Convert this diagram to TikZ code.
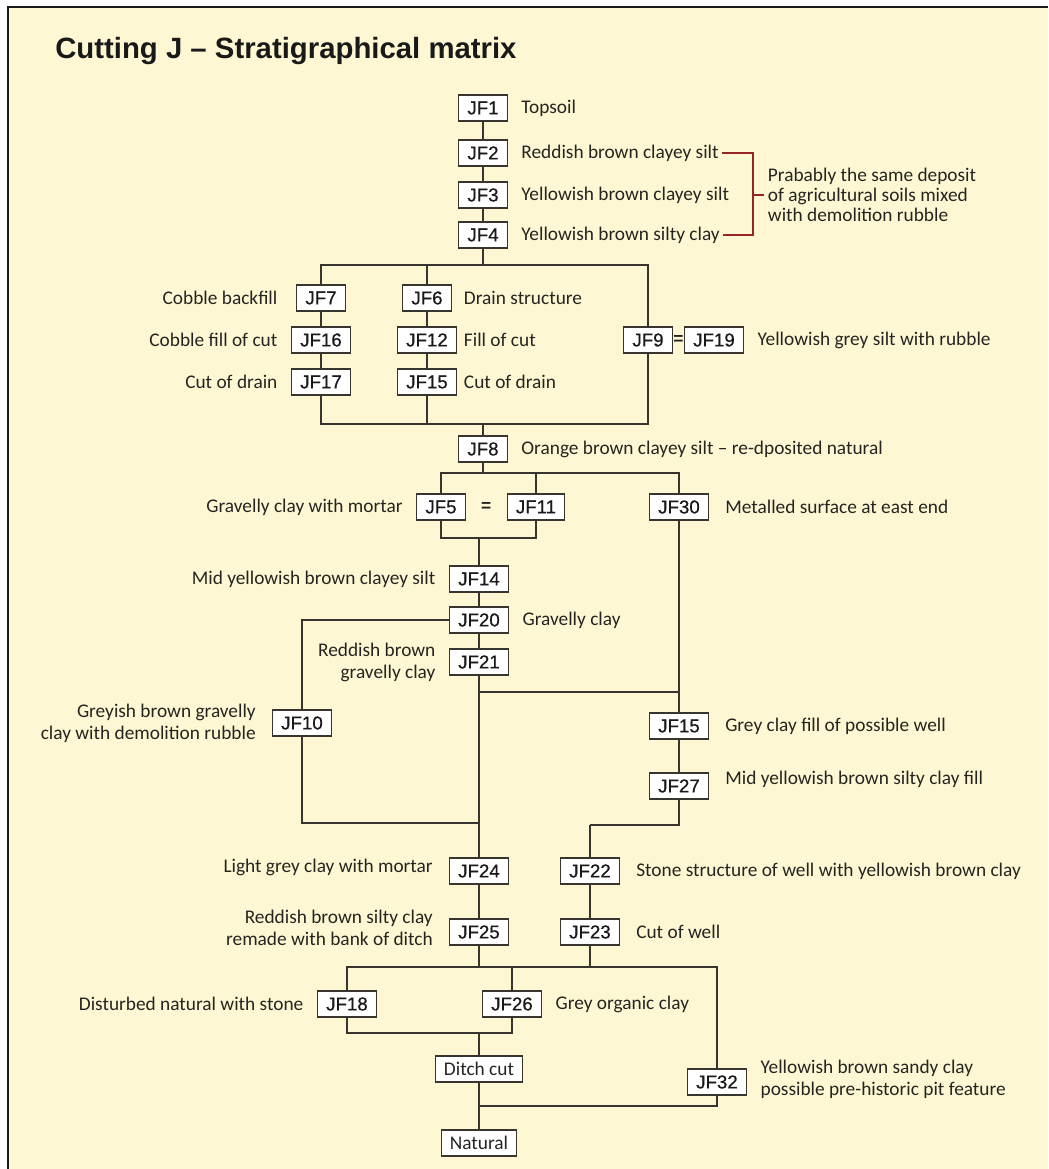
\documentclass[tikz,border=0pt]{standalone}
\usepackage{fontspec}
\setmainfont{Carlito}
\newfontfamily\boxfont[FakeBold=0.6]{Liberation Sans}
\newfontfamily\titlefont{Liberation Sans}
\usepackage{tikz}
\usetikzlibrary{positioning,calc,backgrounds}

\definecolor{paper}{RGB}{253,248,211}
\definecolor{linec}{RGB}{55,53,46}
\definecolor{bracketred}{RGB}{150,38,34}
\definecolor{textc}{RGB}{38,36,33}

\begin{document}
\begin{tikzpicture}[x=0.75pt,y=-0.75pt,node distance=10pt,
   ctx/.style={draw=linec,fill=white,line width=0.9pt,inner xsep=6.5pt,inner ysep=0pt,minimum height=19.5pt,font=\boxfont\fontsize{14}{16}\selectfont,text=black!90},
   ctxw/.style={ctx,font=\fontsize{14.5}{16}\selectfont,text=textc},
   desc/.style={inner sep=0pt,text=textc,font=\fontsize{14.5}{16.5}\selectfont},
   eqs/.style={inner sep=0pt,font=\titlefont\bfseries\fontsize{13}{14}\selectfont,text=textc},
   link/.style={draw=linec,line width=1.3pt}]

   \useasboundingbox (0,0) rectangle (1048,1169);
   \fill[white] (0,0) rectangle (1048,1169);
   \fill[paper] (8,7) rectangle (1048,1169);
   \draw[line width=1.7pt,black!90] (8,1169) -- (8,7) -- (1048,7);

   \node[anchor=west,inner sep=0pt,font=\titlefont\bfseries\fontsize{22}{24}\selectfont,text=black!90] (title) at (55,51) {Cutting J – Stratigraphical matrix};

   % upper sequence
   \node[ctx] (jf1) at (483,108) {JF1};
   \node[ctx] (jf2) at (483,153) {JF2};
   \node[ctx] (jf3) at (483,195) {JF3};
   \node[ctx] (jf4) at (483,235) {JF4};
   \node[desc] (l1) [right=of jf1] {Topsoil};
   \node[desc] (l2) [right=of jf2] {Reddish brown clayey silt};
   \node[desc] (l3) [right=of jf3] {Yellowish brown clayey silt};
   \node[desc] (l4) [right=of jf4] {Yellowish brown silty clay};

   \coordinate (brk) at (753,195);
   \node[desc,align=left,font=\fontsize{14.5}{15}\selectfont] (prob) [right=11pt of brk] {Prabably the same deposit\\of agricultural soils mixed\\with demolition rubble};
   \draw[bracketred,line width=1.4pt] ([xshift=2pt]l2.east) -| (brk) |- ([xshift=2pt]l4.east);
   \draw[bracketred,line width=1.4pt] (brk) -- ([xshift=-3pt]prob.west);

   % drains
   \coordinate (bar1) at (483,265);
   \coordinate (bar2) at (483,424);
   \node[ctx] (jf7) at (321,298) {JF7};
   \node[ctx] (jf16) at (321,340) {JF16};
   \node[ctx] (jf17) at (321,382) {JF17};
   \node[ctx] (jf6) at (427,298) {JF6};
   \node[ctx] (jf12) at (427,340) {JF12};
   \node[ctx] (jf15) at (427,382) {JF15};
   \node[ctx] (jf9) at (648,340) {JF9};
   \node[ctx] (jf19) at (714,340) {JF19};
   \node[eqs] (eq1) at ($(jf9.east)!0.5!(jf19.west)$) {=};
   \node[desc] (l16) [left=of jf16] {Cobble fill of cut};
   \node[desc,anchor=east] (l7) at (l16.east |- jf7) {Cobble backfill};
   \node[desc,anchor=east] (l17) at (l16.east |- jf17) {Cut of drain};
   \node[desc] (l12) [right=5pt of jf12] {Fill of cut};
   \node[desc,anchor=west] (l6) at (l12.west |- jf6) {Drain structure};
   \node[desc,anchor=west] (l15) at (l12.west |- jf15) {Cut of drain};
   \node[desc] (l19) [right=of jf19] {Yellowish grey silt with rubble};

   \node[ctx] (jf8) at (483,449) {JF8};
   \node[desc] (l8) [right=of jf8] {Orange brown clayey silt – re-dposited natural};

   \draw[link] (jf1) -- (jf2) -- (jf3) -- (jf4) -- (bar1);
   \draw[link] (jf7) |- (bar1) -| (jf9);
   \draw[link] (jf6) -- (jf6 |- bar1);
   \draw[link] (jf7) -- (jf16) -- (jf17) |- (bar2) -| (jf9);
   \draw[link] (jf6) -- (jf12) -- (jf15) -- (jf15 |- bar2);
   \draw[link] (bar2) -- (jf8);

   % middle
   \coordinate (bar3) at (483,473);
   \coordinate (bar4) at (479,538);
   \coordinate (bar5) at (479,692);
   \coordinate (bar6) at (479,823);
   \coordinate (bend) at (590,825);
   \node[ctx] (jf5) at (441,507) {JF5};
   \node[ctx] (jf11) at (536,507) {JF11};
   \node[eqs] (eq2) at ($(jf5.east)!0.5!(jf11.west)$) {=};
   \node[ctx] (jf30) at (679,507) {JF30};
   \node[ctx] (jf14) at (479,579) {JF14};
   \node[ctx] (jf20) at (479,620) {JF20};
   \node[ctx] (jf21) at (479,662) {JF21};
   \node[ctx] (jf10) at (302,723) {JF10};
   \node[ctx] (jf15b) at (679,726) {JF15};
   \node[ctx] (jf27) at (679,786) {JF27};
   \node[desc] (l5) [left=of jf5] {Gravelly clay with mortar};
   \node[desc] (l30) [right=12pt of jf30] {Metalled surface at east end};
   \node[desc] (l14) [left=of jf14] {Mid yellowish brown clayey silt};
   \node[desc] (l20) [right=of jf20] {Gravelly clay};
   \node[desc,align=right] (l21) [left=of jf21] {Reddish brown\\gravelly clay};
   \node[desc,align=right] (l10) [left=12pt of jf10] {Greyish brown gravelly\\clay with demolition rubble};
   \node[desc] (l15b) [right=12pt of jf15b] {Grey clay fill of possible well};
   \node[desc,yshift=5pt] (l27) [right=12pt of jf27] {Mid yellowish brown silty clay fill};

   \draw[link] (jf8) -- (jf8 |- bar3);
   \draw[link] (jf5) |- (bar3) -| (jf30);
   \draw[link] (jf11) -- (jf11 |- bar3);
   \draw[link] (jf5) |- (bar4) -| (jf11);
   \draw[link] (bar4) -- (jf14) -- (jf20) -- (jf21);
   \draw[link] (jf20) -| (jf10);
   \draw[link] (jf10) |- (bar6);
   \draw[link] (bar5) -- (bar5 -| jf30);
   \draw[link] (jf30) -- (jf15b) -- (jf27) |- (bend);

   % lower
   \coordinate (bar8) at (479,967);
   \coordinate (bar9) at (479,1033);
   \coordinate (bar10) at (479,1106);
   \node[ctx] (jf24) at (479,871) {JF24};
   \node[ctx] (jf25) at (479,932) {JF25};
   \node[ctx] (jf22) at (590,871) {JF22};
   \node[ctx] (jf23) at (590,932) {JF23};
   \node[ctx] (jf18) at (347,1004) {JF18};
   \node[ctx] (jf26) at (512,1004) {JF26};
   \node[ctx] (jf32) at (717,1082) {JF32};
   \node[ctxw] (ditch) at (479,1069) {Ditch cut};
   \node[ctxw] (natural) at (479,1143) {Natural};
   \node[desc,yshift=3pt] (l24) [left=12pt of jf24] {Light grey clay with mortar};
   \node[desc,align=right,yshift=3pt] (l25) [left=12pt of jf25] {Reddish brown silty clay\\remade with bank of ditch};
   \node[desc] (l22) [right=12pt of jf22] {Stone structure of well with yellowish brown clay};
   \node[desc] (l23) [right=12pt of jf23] {Cut of well};
   \node[desc] (l18) [left=of jf18] {Disturbed natural with stone};
   \node[desc] (l26) [right=of jf26] {Grey organic clay};
   \node[desc,align=left,yshift=2pt] (l32) [right=of jf32] {Yellowish brown sandy clay\\possible pre-historic pit feature};

   \draw[link] (bend) -- (jf22);
   \draw[link] (jf21) -- (jf24) -- (jf25) -- (bar8);
   \draw[link] (jf22) -- (jf23) -- (jf23 |- bar8);
   \draw[link] (jf18) |- (bar8) -| (jf32);
   \draw[link] (jf26) -- (jf26 |- bar8);
   \draw[link] (jf18) |- (bar9) -| (jf26);
   \draw[link] (bar9) -- (ditch) -- (natural);
   \draw[link] (bar10) -| (jf32);

\end{tikzpicture}
\end{document}
